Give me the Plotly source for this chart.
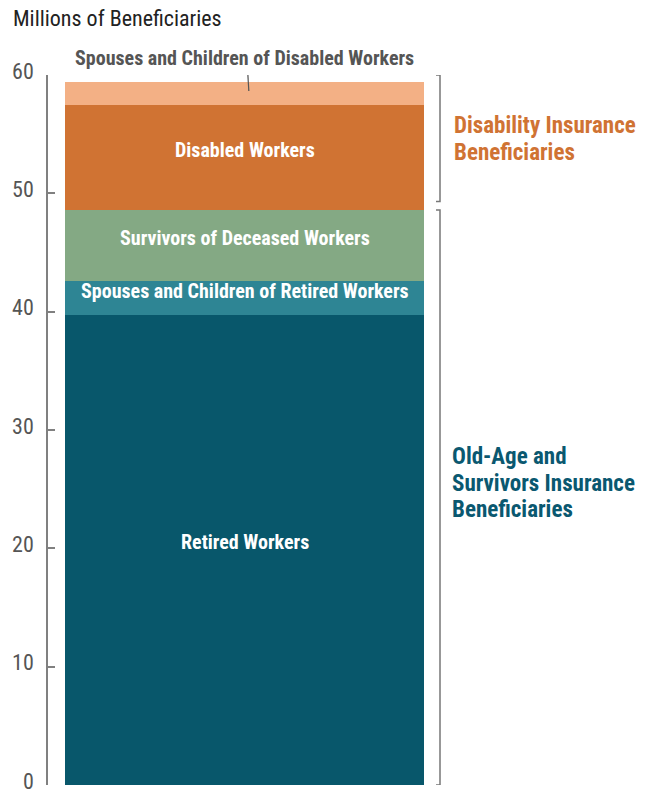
import plotly.graph_objects as go

# Beneficiary categories, bottom to top of the stacked bar (millions)
categories = [
    "Retired Workers",
    "Spouses and Children of Retired Workers",
    "Survivors of Deceased Workers",
    "Disabled Workers",
    "Spouses and Children of Disabled Workers",
]
beneficiaries = [39.7, 2.9, 6.0, 8.9, 1.9]
colors = ["#08576B", "#2E8594", "#84A984", "#D07333", "#F3B085"]

# Program groups: first three categories are OASI, last two are DI
oasi_count = 3
oasi_label = ["Old-Age and", "Survivors Insurance", "Beneficiaries"]
di_label = ["Disability Insurance", "Beneficiaries"]
oasi_color = "#0A5870"
di_color = "#D07333"

y_ticks = [0, 10, 20, 30, 40, 50, 60]

FONT = "'Roboto Condensed', 'Liberation Sans Narrow', 'Arial Narrow', sans-serif"

# plot-area geometry (pixels) used for placing side text
PLOT_TOP, PLOT_H, PLOT_LEFT, PLOT_W = 75, 710, 48, 609


def py(px):
    """paper y from a pixel row"""
    return (PLOT_TOP + PLOT_H - px) / PLOT_H


def pxx(px):
    """paper x from a pixel column"""
    return (px - PLOT_LEFT) / PLOT_W


fig = go.Figure()
for name, val, col in zip(categories, beneficiaries, colors):
    fig.add_trace(go.Bar(
        x=[0], y=[val], name=name, width=1,
        marker=dict(color=col, line=dict(width=0)),
        hoverinfo="skip",
    ))

# cumulative boundaries
bounds = [0]
for v in beneficiaries:
    bounds.append(bounds[-1] + v)
total = bounds[-1]
oasi_total = bounds[oasi_count]

annotations = []
shapes = []

# white labels inside the bar segments (all but the thin top one)
for i, name in enumerate(categories[:-1]):
    mid = (bounds[i] + bounds[i + 1]) / 2
    annotations.append(dict(
        x=0, y=mid, xref="x", yref="y", text=f"<b>{name}</b>",
        showarrow=False, yshift=8 if i == 0 else 7,
        font=dict(family=FONT, size=20, color="white"),
    ))

# label above the bar for the thin top segment, with a leader line
top_mid = (bounds[-2] + bounds[-1]) / 2
annotations.append(dict(
    x=0, y=total, xref="x", yref="y", text=f"<b>{categories[-1]}</b>",
    showarrow=False, yshift=24,
    font=dict(family=FONT, size=20, color="#555555"),
))
shapes.append(dict(
    type="line", xref="x", yref="y",
    x0=0.012, x1=0.009, y0=top_mid + 0.2, y1=total + 0.8,
    line=dict(color="#555555", width=1.2),
))

# right-hand brackets grouping the programs
bx = pxx(440)
tick_len = pxx(440) - pxx(436)
bracket_spans = [(0, oasi_total), (oasi_total + 0.7, y_ticks[-1])]
for (y0, y1) in bracket_spans:
    shapes.append(dict(
        type="path", xref="paper", yref="y",
        path=f"M {bx - tick_len},{y0} L {bx},{y0} L {bx},{y1} L {bx - tick_len},{y1}",
        line=dict(color="#777777", width=1.5),
    ))

# group labels, one annotation per line for tight leading
for k, line in enumerate(di_label):
    annotations.append(dict(
        x=pxx(452), y=py(125 + 28 * k), xref="paper", yref="paper",
        xanchor="left", yanchor="middle", text=f"<b>{line}</b>", showarrow=False,
        font=dict(family=FONT, size=23, color=di_color),
    ))
for k, line in enumerate(oasi_label):
    annotations.append(dict(
        x=pxx(450), y=py(457 + 26 * k), xref="paper", yref="paper",
        xanchor="left", yanchor="middle", text=f"<b>{line}</b>", showarrow=False,
        font=dict(family=FONT, size=23, color=oasi_color),
    ))

# axis title at top-left
annotations.append(dict(
    x=pxx(11), y=py(18), xref="paper", yref="paper",
    xanchor="left", yanchor="middle",
    text="Millions of Beneficiaries", showarrow=False,
    font=dict(family=FONT, size=22, color="#222222"),
))

fig.update_layout(
    barmode="stack",
    width=657, height=795,
    margin=dict(l=PLOT_LEFT, r=0, t=PLOT_TOP, b=10, autoexpand=False),
    paper_bgcolor="white", plot_bgcolor="white",
    showlegend=False,
    bargap=0,
    annotations=annotations,
    shapes=shapes,
    xaxis=dict(range=[-0.5474, 1.149], visible=False, fixedrange=True),
    yaxis=dict(
        range=[0, 60], tickvals=y_ticks, ticktext=[str(t) for t in y_ticks],
        showgrid=False, zeroline=False, automargin=False,
        showline=True, linecolor="#808080", linewidth=1.5,
        ticks="inside", ticklen=7, tickwidth=1.5, tickcolor="#808080",
        ticklabelstandoff=8, ticklabeloverflow="allow", ticklabelshift=-4,
        tickfont=dict(family=FONT, size=22, color="#555555"),
        fixedrange=True,
    ),
)

fig.write_html("out.html")
